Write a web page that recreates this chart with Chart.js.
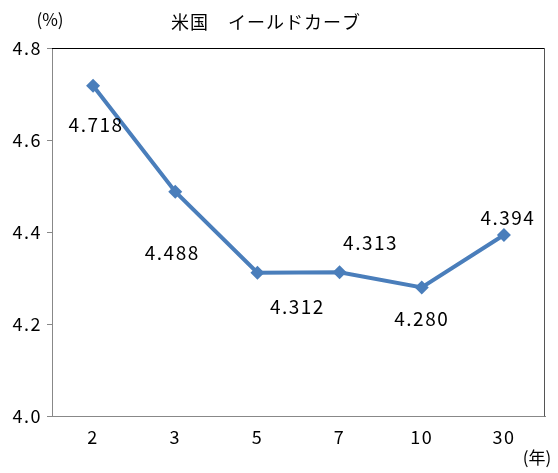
<!DOCTYPE html>
<html>
<head>
<meta charset="utf-8">
<script src="https://cdn.jsdelivr.net/npm/chart.js@4.4.1/dist/chart.umd.min.js"></script>
<style>
	html, body { margin:0; padding:0; background:#fff; }
	#wrap { position:relative; width:558px; height:473px; }
	canvas { display:block; }
</style>
</head>
<body>
<div id="wrap"><canvas id="yieldChart" width="558" height="473"></canvas></div>
<script>
// 年限
var maturities = ['2', '3', '5', '7', '10', '30'];
// 利回り (%)
var yields = [4.718, 4.488, 4.312, 4.313, 4.280, 4.394];
// 目盛
var yTicks = [4.0, 4.2, 4.4, 4.6, 4.8];

var FONT = "'Noto Sans CJK JP', 'DejaVu Sans', sans-serif";
var LINE_COLOR = '#4A7EBB';

/**
 * データラベル・枠・単位表示
 */
var labelPlugin = {
	id: 'yieldLabels',
	beforeDraw: function(chart) {
		// 文字間を少し広げる (目盛も含めて)
		chart.ctx.letterSpacing = '1.5px';
	},
	afterDatasetsDraw: function(chart, args, opts) {
		var ctx = chart.ctx;
		var meta = chart.getDatasetMeta(0);
		ctx.save();
		ctx.fillStyle = '#000';
		ctx.font = '19px ' + FONT;
		ctx.textAlign = 'center';
		ctx.textBaseline = 'middle';
		meta.data.forEach(function(pt, i) {
			var off = opts.offsets[i];
			ctx.fillText(yields[i].toFixed(3), pt.x + off[0], pt.y + off[1]);
		});
		ctx.restore();
	},
	beforeDatasetsDraw: function(chart) {
		var ctx = chart.ctx;
		var a = chart.chartArea;
		ctx.save();
		// 上の枠線
		ctx.strokeStyle = '#000';
		ctx.lineWidth = 1;
		ctx.beginPath();
		ctx.moveTo(a.left, a.top + 0.5);
		ctx.lineTo(a.right, a.top + 0.5);
		ctx.stroke();
		// 右の枠線
		ctx.strokeStyle = '#555';
		ctx.beginPath();
		ctx.moveTo(a.right - 0.5, a.top);
		ctx.lineTo(a.right - 0.5, a.bottom);
		ctx.stroke();
		ctx.restore();
	},
	afterDraw: function(chart) {
		var ctx = chart.ctx;
		ctx.save();
		ctx.fillStyle = '#000';
		ctx.textBaseline = 'middle';
		ctx.textAlign = 'center';
		ctx.letterSpacing = '0px';
		ctx.font = '17px ' + FONT;
		ctx.fillText('(%)', 50, 20);
		ctx.fillText('(年)', 537, 458);
		ctx.letterSpacing = '1px';
		ctx.font = '18px ' + FONT;
		ctx.fillText('米国　イールドカーブ', 266, 22);
		ctx.restore();
	}
};

var config = {
	type: 'line',
	data: {
		labels: maturities,
		datasets: [{
			label: '利回り',
			data: yields,
			borderColor: LINE_COLOR,
			backgroundColor: LINE_COLOR,
			borderWidth: 4,
			pointStyle: 'rectRot',
			pointRadius: 7,
			pointHoverRadius: 7,
			pointBorderWidth: 0,
			tension: 0,
			fill: false
		}]
	},
	options: {
		responsive: false,
		maintainAspectRatio: false,
		animation: { duration: 0 },
		layout: { padding: { top: 48, right: 13, bottom: 15, left: 0 } },
		plugins: {
			legend: { display: false },
			tooltip: { enabled: false },
			title: { display: false },
			yieldLabels: {
				offsets: [[3, 39], [-3, 61], [40, 34], [31, -29], [0, 31], [4, -17]]
			}
		},
		scales: {
			x: {
				offset: true,
				grid: { display: false, drawTicks: false },
				border: { display: true, color: '#888', width: 1 },
				ticks: {
					color: '#000',
					padding: 10,
					font: { family: FONT, size: 18 }
				}
			},
			y: {
				min: 4.0,
				max: 4.8,
				afterBuildTicks: function(axis) {
					axis.ticks = yTicks.map(function(v) { return { value: v }; });
				},
				afterFit: function(axis) { axis.width = 52; },
				grid: {
					display: true,
					drawOnChartArea: false,
					drawTicks: true,
					tickLength: 5,
					color: '#888'
				},
				border: { display: true, color: '#888', width: 1 },
				ticks: {
					color: '#000',
					padding: 5,
					font: { family: FONT, size: 18 },
					callback: function(v) { return Number(v).toFixed(1); }
				}
			}
		}
	},
	plugins: [labelPlugin]
};

var yieldChart = new Chart(document.getElementById('yieldChart'), config);
</script>
</body>
</html>
